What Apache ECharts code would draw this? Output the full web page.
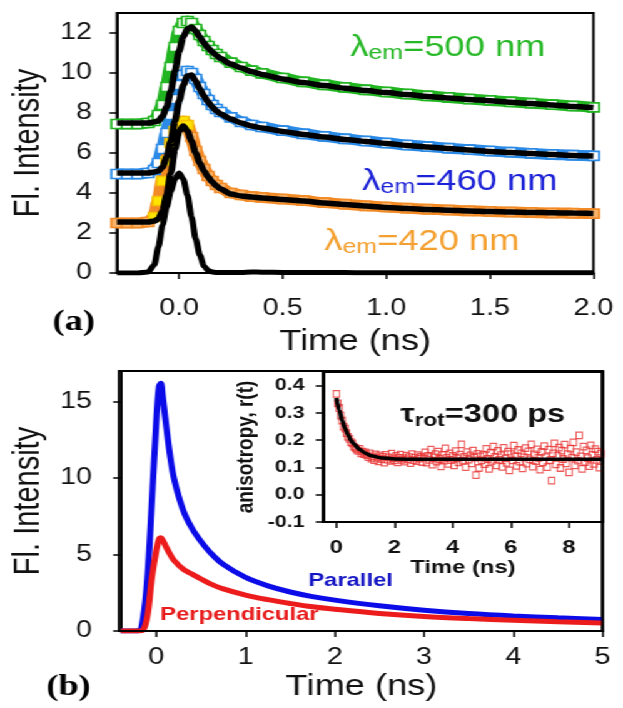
<!DOCTYPE html>
<html>
<head>
<meta charset="utf-8">
<script src="https://cdn.jsdelivr.net/npm/echarts@6/dist/echarts.min.js"></script>
<style>
  html, body { margin: 0; padding: 0; background: #fff; overflow: hidden; }
  /* the original figure is stretched sideways, so draw narrow and widen */
  #chart { width: 498px; height: 708px; transform: scaleX(1.251); transform-origin: 0 0; }
</style>
</head>
<body>
<div id="chart"></div>
<script>
// ---- panel (a): decays at three emission wavelengths (time in ns) ----
var timeA = [-0.30, -0.25, -0.20, -0.15, -0.12, -0.10, -0.08, -0.06, -0.04, -0.02,
  0.00, 0.02, 0.04, 0.06, 0.08, 0.10, 0.12, 0.14, 0.16, 0.18,
  0.20, 0.25, 0.30, 0.35, 0.40, 0.50, 0.60, 0.70, 0.80, 0.90,
  1.00, 1.10, 1.20, 1.30, 1.40, 1.50, 1.60, 1.70, 1.80, 1.90, 2.00];
var irf = [0, 0, 0, 0.05, 0.4, 1.3, 2.4, 3.3, 4.1, 4.7,
  5.0, 4.7, 3.9, 2.8, 1.7, 0.9, 0.35, 0.12, 0.05, 0.03,
  0.03, 0.03, 0.03, 0.05, 0.04, 0.03, 0.02, 0.02, 0.02, 0.01,
  0.01, 0.01, 0.01, 0.01, 0.01, 0.01, 0.01, 0.01, 0.01, 0.01, 0.01];
var raw420 = [2.5, 2.5, 2.5, 2.55, 2.8, 3.6, 4.6, 5.6, 6.5, 7.1,
  7.5, 7.6, 7.4, 6.8, 6.1, 5.6, 5.2, 4.85, 4.6, 4.4,
  4.25, 4.0, 3.9, 3.82, 3.78, 3.7, 3.62, 3.52, 3.44, 3.36,
  3.3, 3.24, 3.19, 3.15, 3.11, 3.08, 3.05, 3.03, 3.0, 2.99, 2.97];
var fit420 = [2.55, 2.55, 2.55, 2.55, 2.6, 2.7, 3.1, 3.9, 5.0, 6.2,
  7.1, 7.35, 7.1, 6.6, 6.0, 5.5, 5.1, 4.8, 4.55, 4.35,
  4.2, 3.95, 3.85, 3.8, 3.75, 3.68, 3.6, 3.5, 3.42, 3.35,
  3.28, 3.23, 3.18, 3.14, 3.1, 3.07, 3.05, 3.03, 3.01, 3.0, 2.98];
var raw460 = [4.95, 4.95, 4.95, 5.0, 5.15, 5.5, 6.2, 7.0, 7.9, 8.7,
  9.4, 9.9, 10.1, 10.0, 9.7, 9.3, 8.95, 8.65, 8.4, 8.2,
  8.05, 7.78, 7.56, 7.4, 7.3, 7.12, 6.96, 6.83, 6.71, 6.6,
  6.5, 6.4, 6.32, 6.24, 6.17, 6.1, 6.04, 5.98, 5.93, 5.89, 5.86];
var fit460 = [5.0, 5.0, 5.0, 5.0, 5.05, 5.1, 5.3, 5.8, 6.6, 7.6,
  8.6, 9.4, 9.85, 9.9, 9.6, 9.2, 8.85, 8.55, 8.3, 8.1,
  7.95, 7.7, 7.5, 7.35, 7.25, 7.08, 6.93, 6.8, 6.68, 6.58,
  6.48, 6.38, 6.3, 6.22, 6.15, 6.08, 6.02, 5.97, 5.92, 5.88, 5.85];
var raw500 = [7.45, 7.45, 7.45, 7.5, 7.6, 7.9, 8.4, 9.3, 10.3, 11.3,
  12.1, 12.5, 12.6, 12.5, 12.2, 11.9, 11.6, 11.35, 11.15, 10.95,
  10.8, 10.52, 10.3, 10.12, 9.98, 9.75, 9.56, 9.41, 9.28, 9.16,
  9.05, 8.95, 8.86, 8.78, 8.7, 8.63, 8.56, 8.49, 8.42, 8.35, 8.28];
var fit500 = [7.5, 7.5, 7.5, 7.5, 7.55, 7.6, 7.85, 8.3, 9.1, 10.1,
  11.1, 11.8, 12.2, 12.3, 12.1, 11.8, 11.5, 11.25, 11.05, 10.88,
  10.72, 10.45, 10.25, 10.07, 9.93, 9.7, 9.52, 9.37, 9.24, 9.12,
  9.02, 8.92, 8.83, 8.75, 8.68, 8.61, 8.54, 8.47, 8.4, 8.33, 8.27];
var ticksAx = [0, 0.5, 1.0, 1.5, 2.0];
var ticksAy = [0, 2, 4, 6, 8, 10, 12];

// ---- panel (b): polarised decays ----
var timeB = [-0.40, -0.30, -0.20, -0.15, -0.10, -0.05, 0.00, 0.03, 0.05, 0.07,
  0.10, 0.15, 0.20, 0.30, 0.40, 0.50, 0.60, 0.75, 1.00, 1.25,
  1.50, 1.75, 2.00, 2.50, 3.00, 3.50, 4.00, 4.50, 5.00];
var parallel = [0, 0, 0.02, 0.8, 3.5, 8.5, 13.8, 16.0, 16.2, 15.4,
  13.9, 11.6, 9.9, 7.9, 6.7, 5.85, 5.15, 4.35, 3.5, 2.95,
  2.55, 2.25, 2.02, 1.65, 1.36, 1.14, 0.98, 0.86, 0.76];
var perpendicular = [0, 0, 0, 0.05, 1.0, 3.5, 5.3, 6.0, 6.1, 5.95,
  5.6, 5.05, 4.6, 4.05, 3.72, 3.4, 3.1, 2.75, 2.35, 2.05,
  1.8, 1.58, 1.42, 1.15, 0.95, 0.81, 0.7, 0.6, 0.52];
var ticksBx = [0, 1, 2, 3, 4, 5];
var ticksBy = [0, 5, 10, 15];

// ---- inset: anisotropy r(t) ----
var anisoTime = [0, 0.05, 0.1, 0.15, 0.2, 0.25, 0.3, 0.35, 0.4, 0.45, 0.5, 0.55, 0.6, 0.65, 0.7, 0.75, 0.8, 0.85, 0.9, 0.95,
  1, 1.05, 1.1, 1.15, 1.2, 1.25, 1.3, 1.35, 1.4, 1.45, 1.5, 1.55, 1.6, 1.65, 1.7, 1.75, 1.8, 1.85, 1.9, 1.95,
  2, 2.05, 2.1, 2.15, 2.2, 2.25, 2.3, 2.35, 2.4, 2.45, 2.5, 2.55, 2.6, 2.65, 2.7, 2.75, 2.8, 2.85, 2.9, 2.95,
  3, 3.05, 3.1, 3.15, 3.2, 3.25, 3.3, 3.35, 3.4, 3.45, 3.5, 3.55, 3.6, 3.65, 3.7, 3.75, 3.8, 3.85, 3.9, 3.95,
  4, 4.05, 4.1, 4.15, 4.2, 4.25, 4.3, 4.35, 4.4, 4.45, 4.5, 4.55, 4.6, 4.65, 4.7, 4.75, 4.8, 4.85, 4.9, 4.95,
  5, 5.05, 5.1, 5.15, 5.2, 5.25, 5.3, 5.35, 5.4, 5.45, 5.5, 5.55, 5.6, 5.65, 5.7, 5.75, 5.8, 5.85, 5.9, 5.95,
  6, 6.05, 6.1, 6.15, 6.2, 6.25, 6.3, 6.35, 6.4, 6.45, 6.5, 6.55, 6.6, 6.65, 6.7, 6.75, 6.8, 6.85, 6.9, 6.95,
  7, 7.05, 7.1, 7.15, 7.2, 7.25, 7.3, 7.35, 7.4, 7.45, 7.5, 7.55, 7.6, 7.65, 7.7, 7.75, 7.8, 7.85, 7.9, 7.95,
  8, 8.05, 8.1, 8.15, 8.2, 8.25, 8.3, 8.35, 8.4, 8.45, 8.5, 8.55, 8.6, 8.65, 8.7, 8.75, 8.8, 8.85, 8.9, 8.95,
  9, 9.05, 9.1];
var anisoR = [0.37, 0.335, 0.318, 0.29, 0.272, 0.25, 0.242, 0.226, 0.212, 0.205, 0.193, 0.188, 0.176, 0.172, 0.165, 0.161, 0.168, 0.152, 0.158, 0.149,
  0.155, 0.145, 0.138, 0.152, 0.132, 0.141, 0.127, 0.148, 0.136, 0.122, 0.144, 0.131, 0.139, 0.118, 0.146, 0.129, 0.137, 0.124, 0.151, 0.133,
  0.126, 0.142, 0.119, 0.135, 0.147, 0.128, 0.134, 0.121, 0.143, 0.13, 0.138, 0.116, 0.149, 0.127, 0.136, 0.123, 0.145, 0.132, 0.14, 0.12,
  0.137, 0.155, 0.118, 0.142, 0.128, 0.165, 0.11, 0.137, 0.149, 0.121, 0.158, 0.131, 0.104, 0.146, 0.125, 0.17, 0.135, 0.113, 0.152, 0.127,
  0.142, 0.108, 0.16, 0.133, 0.119, 0.147, 0.185, 0.124, 0.139, 0.101, 0.156, 0.129, 0.144, 0.115, 0.162, 0.136, 0.072, 0.15, 0.098, 0.141,
  0.126, 0.147, 0.112, 0.168, 0.131, 0.095, 0.154, 0.124, 0.176, 0.139, 0.108, 0.161, 0.128, 0.145, 0.102, 0.172, 0.133, 0.117, 0.158, 0.089,
  0.149, 0.126, 0.18, 0.141, 0.106, 0.164, 0.121, 0.152, 0.097, 0.137, 0.171, 0.114, 0.159, 0.13, 0.185, 0.103, 0.148, 0.123, 0.166, 0.135,
  0.092, 0.157, 0.119, 0.178, 0.138, 0.101, 0.165, 0.127, 0.052, 0.152, 0.188, 0.111, 0.143, 0.173, 0.098, 0.162, 0.131, 0.184, 0.115, 0.149,
  0.082, 0.169, 0.136, 0.192, 0.108, 0.156, 0.125, 0.218, 0.141, 0.095, 0.176, 0.12, 0.163, 0.134, 0.105, 0.181, 0.146, 0.113, 0.167, 0.128,
  0.158, 0.099, 0.151];
var fitTime = [0, 0.1, 0.2, 0.3, 0.4, 0.5, 0.6, 0.8, 1.0, 1.2, 1.5, 2.0, 3.0, 9.15];
var fitR = [0.355, 0.31, 0.272, 0.243, 0.22, 0.2, 0.186, 0.166, 0.152, 0.143, 0.136, 0.131, 0.13, 0.13];
var ticksIx = [0, 2, 4, 6, 8];
var ticksIy = [-0.1, 0, 0.1, 0.2, 0.3, 0.4];

var FONT = '"Liberation Sans", Arial, sans-serif';
var SERIF = '"Liberation Serif", "Times New Roman", serif';
var INK = '#111';

// panel boxes (chart units, before the sideways stretch)
var boxA = { left: 90.4, top: 13, width: 384, height: 260 };
var boxB = { left: 95.2, top: 371, width: 386.4, height: 260 };
var boxI = { left: 258.4, top: 372, width: 223.2, height: 150 };

function pairs(xs, ys) {
    return xs.map(function (x, i) { return [x, ys[i]]; });
}

function valueAxis(grid, min, max, ticks, fmt, opt) {
    return {
        type: 'value', gridIndex: grid, min: min, max: max,
        axisLine: { show: true, onZero: false, lineStyle: { color: '#000', width: 2 } },
        axisTick: { show: true, customValues: ticks, length: opt.tick, lineStyle: { color: '#000', width: 1.5 } },
        axisLabel: {
            customValues: ticks, formatter: fmt, margin: opt.margin,
            fontSize: opt.size, fontFamily: FONT, fontWeight: opt.bold ? 'bold' : 'normal', color: INK
        },
        splitLine: { show: false },
        name: opt.name, nameLocation: 'middle', nameGap: opt.gap,
        nameTextStyle: { fontSize: opt.nameSize, fontFamily: FONT, fontWeight: opt.bold ? 'bold' : 'normal', color: INK }
    };
}

function dataBand(data, color, fill) {
    return {
        type: 'line', xAxisIndex: 0, yAxisIndex: 0, data: data,
        smooth: 0.25, smoothMonotone: 'x',
        symbol: 'rect', symbolSize: 9, showAllSymbol: true,
        lineStyle: { color: color, width: 11 },
        itemStyle: { color: fill, borderColor: color, borderWidth: 1.7 },
        z: 2, silent: true
    };
}

function fitLine(data, xi, width) {
    return {
        type: 'line', xAxisIndex: xi, yAxisIndex: xi, data: data,
        smooth: 0.25, smoothMonotone: 'x', symbol: 'none',
        lineStyle: { color: '#000', width: width }, z: 4, silent: true
    };
}

function decayLine(name, data, color) {
    return {
        type: 'line', name: name, xAxisIndex: 1, yAxisIndex: 1, data: data,
        smooth: 0.35, symbol: 'none',
        lineStyle: { color: color, width: 5 }, z: 3, silent: true
    };
}

function subLabel(x, y, main, sub, rest, color, size, bold) {
    var w = bold ? 'bold' : 'normal';
    return {
        type: 'text', x: x, y: y, z: 100,
        style: {
            text: '{m|' + main + '}{s|' + sub + '}{m|' + rest + '}',
            align: 'left', verticalAlign: 'middle', textAlign: 'left', textVerticalAlign: 'middle',
            rich: {
                m: { fontSize: size, fontFamily: FONT, fontWeight: w, fill: color, lineHeight: 30 },
                s: { fontSize: Math.round(size * 0.68), fontFamily: FONT, fontWeight: w, fill: color, lineHeight: 6, verticalAlign: 'bottom' }
            }
        }
    };
}

function plainLabel(x, y, text, color, size, weight, family) {
    return {
        type: 'text', x: x, y: y, z: 100,
        style: {
            text: text, fill: color, fontSize: size, fontWeight: weight, fontFamily: family || FONT,
            align: 'left', verticalAlign: 'middle', textAlign: 'left', textVerticalAlign: 'middle'
        }
    };
}

// box outline on its own layer so nothing can paint over it
function frame(box) {
    return {
        type: 'rect', zlevel: 2, z: 10, silent: true,
        shape: { x: box.left, y: box.top, width: box.width, height: box.height },
        style: { fill: 'none', stroke: '#000', lineWidth: 2 }
    };
}

var GREEN = '#22b522', LBLUE = '#2b8ae6', ORANGE = '#f28a26', YELLOW = '#ffe400';

var orangeBand = dataBand(pairs(timeA, raw420).map(function (p) {
    // squares on the rising edge are yellow in the original
    if (p[0] >= -0.12 && p[0] <= 0.04) {
        return { value: p, itemStyle: { color: YELLOW, borderColor: '#f5c000' } };
    }
    return p;
}), ORANGE, '#f9b46c');

var chart = echarts.init(document.getElementById('chart'));

chart.setOption({
    backgroundColor: '#fff',
    animation: false,
    grid: [
        Object.assign({ show: true, borderColor: '#000', borderWidth: 2 }, boxA),
        Object.assign({ show: true, borderColor: '#000', borderWidth: 2 }, boxB),
        Object.assign({ show: true, borderColor: '#000', borderWidth: 2, backgroundColor: '#fff' }, boxI)
    ],
    xAxis: [
        valueAxis(0, -0.3, 2.0, ticksAx, function (v) { return v.toFixed(1); },
            { tick: 6, margin: 24, size: 23, name: 'Time (ns)', gap: 54, nameSize: 29 }),
        valueAxis(1, -0.4, 5, ticksBx, function (v) { return String(v); },
            { tick: 6, margin: 15, size: 23, name: 'Time (ns)', gap: 41, nameSize: 29 }),
        valueAxis(2, -0.45, 9.15, ticksIx, function (v) { return String(v); },
            { tick: 6, margin: 16, size: 19, name: 'Time (ns)', gap: 31, nameSize: 19, bold: true })
    ],
    yAxis: [
        valueAxis(0, 0, 13, ticksAy, function (v) { return String(v); },
            { tick: 6, margin: 20, size: 23, name: 'Fl. Intensity', gap: 52, nameSize: 29 }),
        valueAxis(1, 0, 17, ticksBy, function (v) { return String(v); },
            { tick: 6, margin: 23, size: 23, name: 'Fl. Intensity', gap: 55, nameSize: 29 }),
        valueAxis(2, -0.1, 0.45, ticksIy, function (v) { return v.toFixed(1); },
            { tick: 6, margin: 15, size: 17, name: 'anisotropy, r(t)', gap: 52, nameSize: 19, bold: true })
    ],
    series: [
        dataBand(pairs(timeA, raw500), GREEN, '#ffffff'),
        dataBand(pairs(timeA, raw460), LBLUE, '#ffffff'),
        orangeBand,
        fitLine(pairs(timeA, fit500), 0, 5.5),
        fitLine(pairs(timeA, fit460), 0, 5.5),
        fitLine(pairs(timeA, fit420), 0, 5.5),
        fitLine(pairs(timeA, irf), 0, 5),
        decayLine('Parallel', pairs(timeB, parallel), '#0c0ce8'),
        decayLine('Perpendicular', pairs(timeB, perpendicular), '#ec1c1c'),
        {
            type: 'scatter', xAxisIndex: 2, yAxisIndex: 2, data: pairs(anisoTime, anisoR),
            symbol: 'rect', symbolSize: [5, 6.5],
            itemStyle: { color: 'rgba(255,255,255,0)', borderColor: '#e83232', borderWidth: 1.1 },
            z: 3, silent: true
        },
        fitLine(pairs(fitTime, fitR), 2, 3.5)
    ],
    graphic: [
        frame(boxB),
        frame(boxI),
        subLabel(280, 48, 'λ', 'em', '=500 nm', '#27b827', 29, false),
        subLabel(289.6, 182, 'λ', 'em', '=460 nm', '#1c22d6', 29, false),
        subLabel(259.2, 242, 'λ', 'em', '=420 nm', '#f4a030', 29, false),
        subLabel(320, 415, 'τ', 'rot', '=300 ps', '#111', 26, true),
        plainLabel(246.4, 581, 'Parallel', '#1414c4', 19, 'bold'),
        plainLabel(128, 615, 'Perpendicular', '#e81c1c', 19, 'bold'),
        plainLabel(42, 323, '(a)', '#000', 29, 'bold', SERIF),
        plainLabel(37, 688, '(b)', '#000', 29, 'bold', SERIF)
    ]
});
</script>
</body>
</html>
